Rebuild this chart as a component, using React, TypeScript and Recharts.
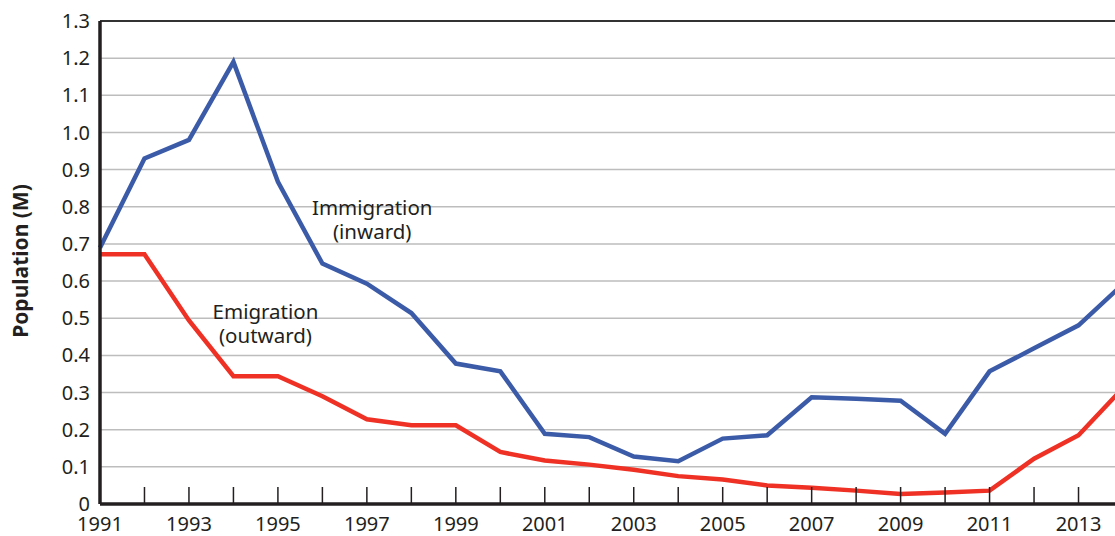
import React from "react";
import {
  LineChart,
  Line,
  XAxis,
  YAxis,
  CartesianGrid,
  ReferenceLine,
  ReferenceDot,
} from "recharts";

const years = [
  1991, 1992, 1993, 1994, 1995, 1996, 1997, 1998, 1999, 2000, 2001, 2002,
  2003, 2004, 2005, 2006, 2007, 2008, 2009, 2010, 2011, 2012, 2013, 2014,
];

// population in millions
const immigration = [
  0.69, 0.93, 0.98, 1.19, 0.867, 0.647, 0.593, 0.514, 0.378, 0.357, 0.189,
  0.18, 0.128, 0.115, 0.176, 0.185, 0.287, 0.283, 0.278, 0.189, 0.357, 0.419,
  0.481, 0.592,
];
const emigration = [
  0.672, 0.672, 0.494, 0.344, 0.344, 0.29, 0.228, 0.212, 0.212, 0.14, 0.117,
  0.106, 0.092, 0.075, 0.066, 0.05, 0.044, 0.036, 0.027, 0.031, 0.036, 0.122,
  0.185, 0.312,
];

const yTicks = [0, 0.1, 0.2, 0.3, 0.4, 0.5, 0.6, 0.7, 0.8, 0.9, 1.0, 1.1, 1.2, 1.3];

// annotation text: anchor year / value (baseline of first line)
const notes = [
  { year: 1997.12, value: 0.778, lines: ["Immigration", "(inward)"] },
  { year: 1994.72, value: 0.499, lines: ["Emigration", "(outward)"] },
];

const data = years.map((year, i) => ({
  year,
  immigration: immigration[i],
  emigration: emigration[i],
}));

const FONT = "'Noto Sans', sans-serif";
const INK = "#231f20";

function YearTick(props: any) {
  const { x, y, payload } = props;
  const yr = payload.value as number;
  return (
    <g>
      {yr !== 1991 && (
        <line x1={x} x2={x} y1={y} y2={y - 17} stroke={INK} strokeWidth={1.5} />
      )}
      {yr % 2 === 1 && (
        <text
          x={x}
          y={y + 27}
          textAnchor="middle"
          fontSize={20}
          fontFamily={FONT}
          fill={INK}
        >
          {yr}
        </text>
      )}
    </g>
  );
}

function NoteLabel(lines: string[]) {
  return (props: any) => {
    const { viewBox } = props;
    const cx = viewBox.x + (viewBox.width || 0) / 2;
    const cy = viewBox.y + (viewBox.height || 0) / 2;
    return (
      <text textAnchor="middle" fontSize={20.5} fontFamily={FONT} fill={INK}>
        {lines.map((l, i) => (
          <tspan key={i} x={cx} y={cy + i * 24}>
            {l}
          </tspan>
        ))}
      </text>
    );
  };
}

function App() {
  return (
    <div
      style={{
        position: "absolute",
        left: 0,
        top: 0,
        width: 1115,
        height: 536,
        overflow: "hidden",
        background: "#fff",
      }}
    >
      <LineChart
        width={1140}
        height={536}
        data={data}
        margin={{ top: 21, right: 17, bottom: 0, left: 0 }}
      >
        <CartesianGrid vertical={false} stroke="#bdbdbd" strokeWidth={1.5} />
        <ReferenceLine y={1.3} stroke="#333" strokeWidth={2} />
        <XAxis
          dataKey="year"
          type="number"
          domain={[1991, 2014]}
          ticks={years}
          interval={0}
          height={32}
          tickLine={false}
          tickSize={0}
          tickMargin={0}
          axisLine={{ stroke: INK, strokeWidth: 3.5 }}
          tick={<YearTick />}
        />
        <YAxis
          type="number"
          domain={[0, 1.3]}
          ticks={yTicks}
          interval={0}
          width={100}
          tickLine={false}
          tickSize={0}
          tickMargin={10}
          axisLine={{ stroke: INK, strokeWidth: 3.5 }}
          tick={{ fontSize: 20, fontFamily: FONT, fill: INK }}
          tickFormatter={(v: number) => (v === 0 ? "0" : v.toFixed(1))}
          label={{
            content: () => (
              <text
                transform="translate(28,261) rotate(-90)"
                textAnchor="middle"
                fontSize={21}
                fontWeight="bold"
                fontFamily={FONT}
                fill={INK}
              >
                Population (M)
              </text>
            ),
          }}
        />
        <Line
          dataKey="emigration"
          stroke="#ee3124"
          strokeWidth={4.5}
          dot={false}
          activeDot={false}
          isAnimationActive={false}
        />
        <Line
          dataKey="immigration"
          stroke="#3b5ba8"
          strokeWidth={4.5}
          dot={false}
          activeDot={false}
          isAnimationActive={false}
        />
        {notes.map((n) => (
          <ReferenceDot
            key={n.lines[0]}
            x={n.year}
            y={n.value}
            r={0}
            stroke="none"
            fill="none"
            label={{ content: NoteLabel(n.lines) }}
          />
        ))}
      </LineChart>
    </div>
  );
}

export default App;
